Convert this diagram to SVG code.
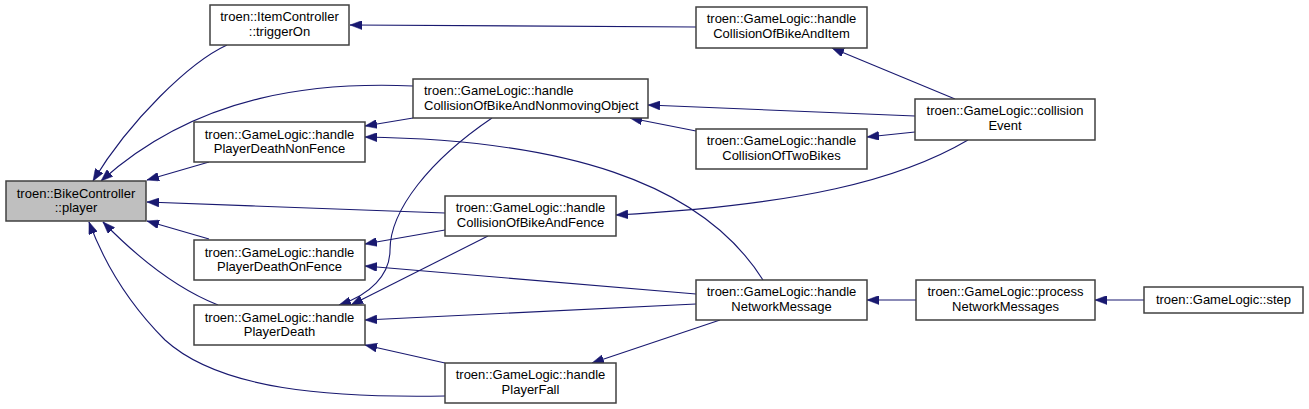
<svg xmlns="http://www.w3.org/2000/svg" width="1309" height="409" viewBox="0 0 1309 409">
<style>
  .node rect { fill: #ffffff; stroke: #404040; stroke-width: 1.5; }
  .node.root rect { fill: #bfbfbf; }
  .node text { font-family: "Liberation Sans", Arial, sans-serif; font-size: 13px; fill: #000000; text-anchor: middle; }
  .node text.left { text-anchor: start; }
  .edges path { fill: none; stroke: #191970; stroke-width: 1.1; marker-end: url(#arrow); }
</style>
<defs>
  <marker id="arrow" markerUnits="userSpaceOnUse" markerWidth="12" markerHeight="9" viewBox="0 0 12 9" refX="12" refY="4.5" orient="auto">
    <path d="M0,0 L12,4.5 L0,9 z" fill="#191970" stroke="#191970" stroke-width="0.5"/>
  </marker>
</defs>
<rect width="1309" height="409" fill="#ffffff"/>
<g id="connectors" class="edges">
  <path d="M227,45 C190,62 130,120 93,181"/>
  <path d="M413,86 C320,82 200,92 101,181"/>
  <path d="M209,162 L147,180"/>
  <path d="M445,213 C400,211 250,206 147,202"/>
  <path d="M209,239 L147,221"/>
  <path d="M218,305 C180,290 140,260 103,222"/>
  <path d="M445,396 C330,398 220,390 165,340 C130,305 105,265 89,222"/>
  <path d="M696,27 L350,25"/>
  <path d="M413,118 L365,126"/>
  <path d="M763,280 C700,180 560,140 365,137"/>
  <path d="M492,118 C430,160 390,210 390,250 C390,275 370,295 339,305"/>
  <path d="M445,230 L365,244"/>
  <path d="M488,236 L351,305"/>
  <path d="M696,294 L365,266"/>
  <path d="M696,304 L365,320"/>
  <path d="M445,363 L365,345"/>
  <path d="M720,320 L592,363"/>
  <path d="M955,99 L832,48"/>
  <path d="M915,116 L648,105"/>
  <path d="M915,132 L867,137"/>
  <path d="M696,131 L630,118"/>
  <path d="M968,140 C900,180 800,205 616,215"/>
  <path d="M916,300 L867,300"/>
  <path d="M1144,300 L1095,300"/>
</g>
<g id="node-player" class="node root">
  <rect x="6" y="181" width="140" height="40"/>
  <text x="76" y="198">troen::BikeController</text>
  <text x="76" y="212">::player</text>
</g>
<g id="node-triggerOn" class="node">
  <rect x="210" y="5" width="139" height="40"/>
  <text x="279.5" y="21">troen::ItemController</text>
  <text x="279.5" y="36">::triggerOn</text>
</g>
<g id="node-handlePlayerDeathNonFence" class="node">
  <rect x="194" y="122" width="171" height="40"/>
  <text x="279.5" y="139">troen::GameLogic::handle</text>
  <text x="279.5" y="153">PlayerDeathNonFence</text>
</g>
<g id="node-handlePlayerDeathOnFence" class="node">
  <rect x="194" y="240" width="171" height="40"/>
  <text x="279.5" y="257">troen::GameLogic::handle</text>
  <text x="279.5" y="271">PlayerDeathOnFence</text>
</g>
<g id="node-handlePlayerDeath" class="node">
  <rect x="194" y="305" width="171" height="40"/>
  <text x="279.5" y="322">troen::GameLogic::handle</text>
  <text x="279.5" y="336">PlayerDeath</text>
</g>
<g id="node-handleCollisionOfBikeAndNonmovingObject" class="node">
  <rect x="413" y="79" width="235" height="39"/>
  <text class="left" x="424" y="95">troen::GameLogic::handle</text>
  <text class="left" x="424" y="110">CollisionOfBikeAndNonmovingObject</text>
</g>
<g id="node-handleCollisionOfBikeAndFence" class="node">
  <rect x="445" y="196" width="171" height="40"/>
  <text x="530.5" y="212">troen::GameLogic::handle</text>
  <text x="530.5" y="227">CollisionOfBikeAndFence</text>
</g>
<g id="node-handlePlayerFall" class="node">
  <rect x="445" y="363" width="171" height="40"/>
  <text x="530.5" y="379">troen::GameLogic::handle</text>
  <text x="530.5" y="394">PlayerFall</text>
</g>
<g id="node-handleCollisionOfBikeAndItem" class="node">
  <rect x="696" y="7" width="171" height="41"/>
  <text x="781.5" y="23">troen::GameLogic::handle</text>
  <text x="781.5" y="38">CollisionOfBikeAndItem</text>
</g>
<g id="node-handleCollisionOfTwoBikes" class="node">
  <rect x="696" y="129" width="171" height="40"/>
  <text x="781.5" y="145">troen::GameLogic::handle</text>
  <text x="781.5" y="160">CollisionOfTwoBikes</text>
</g>
<g id="node-handleNetworkMessage" class="node">
  <rect x="696" y="280" width="171" height="40"/>
  <text x="781.5" y="296">troen::GameLogic::handle</text>
  <text x="781.5" y="311">NetworkMessage</text>
</g>
<g id="node-collisionEvent" class="node">
  <rect x="915" y="99" width="180" height="41"/>
  <text x="1005" y="115">troen::GameLogic::collision</text>
  <text x="1005" y="130">Event</text>
</g>
<g id="node-processNetworkMessages" class="node">
  <rect x="916" y="280" width="179" height="40"/>
  <text x="1005.5" y="296">troen::GameLogic::process</text>
  <text x="1005.5" y="311">NetworkMessages</text>
</g>
<g id="node-step" class="node">
  <rect x="1144" y="287" width="159" height="26"/>
  <text x="1223.5" y="304">troen::GameLogic::step</text>
</g>
</svg>
